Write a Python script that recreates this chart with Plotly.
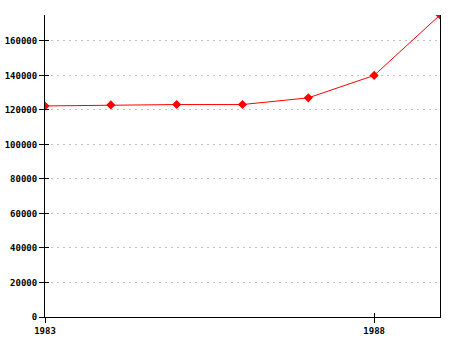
import plotly.graph_objects as go

years = [1983, 1984, 1985, 1986, 1987, 1988, 1989]
values = [122300, 122900, 123100, 123100, 127000, 140000, 175000]
x_ticks = [1983, 1988]
y_ticks = [0, 20000, 40000, 60000, 80000, 100000, 120000, 140000, 160000]

font = dict(family="DejaVu Sans Mono, monospace", size=9, color="black", weight="bold")

fig = go.Figure()
fig.add_trace(go.Scatter(
    x=years, y=values, mode="lines+markers",
    line=dict(color="red", width=1),
    marker=dict(symbol="diamond", size=7, color="red"),
    hoverinfo="skip", showlegend=False,
))
# invisible trace on overlay axes to activate them
fig.add_trace(go.Scatter(x=[years[0]], y=[values[0]], xaxis="x2", yaxis="y2",
                         mode="markers", marker=dict(opacity=0), showlegend=False,
                         hoverinfo="skip"))

yr = [0, max(values)]
xr = [years[0], years[-1]]

fig.update_layout(
    width=455, height=340,
    margin=dict(l=45, r=15, t=15, b=23, autoexpand=False),
    paper_bgcolor="white", plot_bgcolor="white",
    font=font,
    xaxis=dict(range=xr, tickvals=x_ticks, ticktext=[str(v) for v in x_ticks],
               showline=True, linecolor="black", linewidth=1, automargin=False,
               ticks="outside", ticklen=5, tickcolor="black",
               showgrid=False, zeroline=False, tickfont=font),
    yaxis=dict(range=yr, tickvals=y_ticks, ticktext=[str(v) for v in y_ticks],
               showline=True, linecolor="black", linewidth=1, mirror=True,
               automargin=False,
               ticks="outside", ticklen=5, tickcolor="black",
               showgrid=True, gridcolor="#c0c0c0", griddash="2px,4px", gridwidth=1,
               zeroline=False, tickfont=font),
    xaxis2=dict(range=xr, overlaying="x", tickvals=x_ticks, showticklabels=False,
                ticks="inside", ticklen=4, tickcolor="black", showgrid=False,
                zeroline=False, showline=False, automargin=False),
    yaxis2=dict(range=yr, overlaying="y", tickvals=y_ticks, showticklabels=False,
                ticks="inside", ticklen=4, tickcolor="black", showgrid=False,
                zeroline=False, showline=False, automargin=False),
)
fig.write_html("out.html")
